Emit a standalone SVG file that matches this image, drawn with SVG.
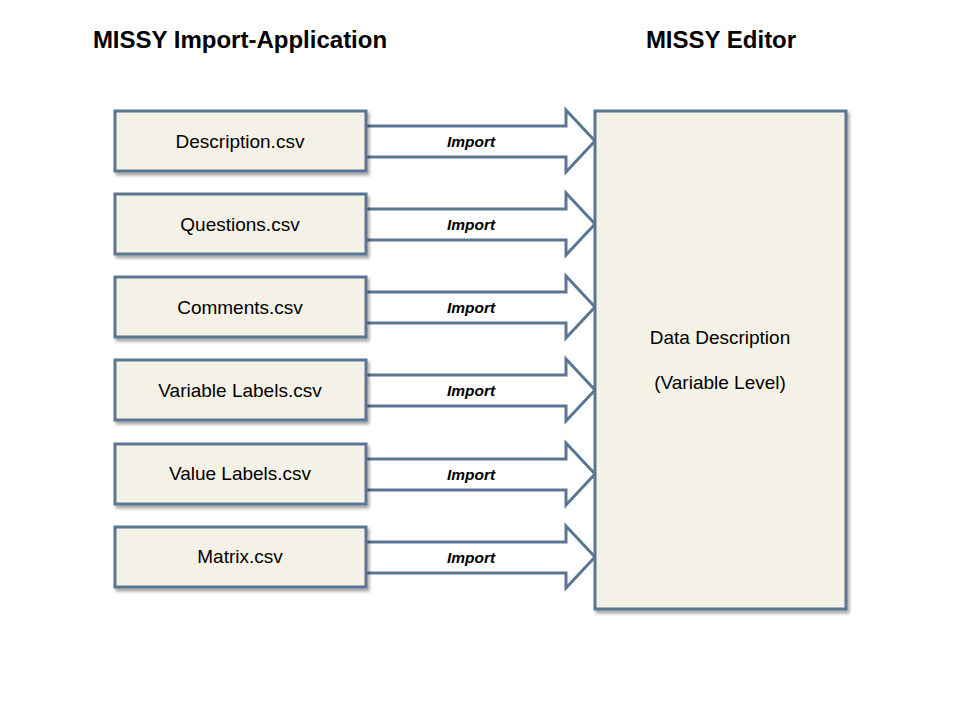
<svg xmlns="http://www.w3.org/2000/svg" width="960" height="720" viewBox="0 0 960 720">
<defs>
<filter id="sh" x="-10%" y="-10%" width="130%" height="130%">
<feGaussianBlur in="SourceAlpha" stdDeviation="1.5"/>
<feOffset dx="2" dy="3" result="b"/>
<feComponentTransfer><feFuncA type="linear" slope="0.35"/></feComponentTransfer>
<feMerge><feMergeNode/><feMergeNode in="SourceGraphic"/></feMerge>
</filter>
<path id="arr" d="M366,126 H566 V110 L595,141 L566,172 V157 H366"/>
</defs>
<style>
.box{fill:#f4f1e6;stroke:#5a7693;stroke-width:3;filter:url(#sh)}
.arrow{fill:#ffffff;stroke:#5a7693;stroke-width:3;stroke-linejoin:miter}
.t{font-family:"Liberation Sans",Arial,sans-serif;font-size:19px;fill:#000;text-anchor:middle}
.imp{font-family:"Liberation Sans",Arial,sans-serif;font-size:15.5px;font-weight:bold;font-style:italic;fill:#000;text-anchor:middle}
.title{font-family:"Liberation Sans",Arial,sans-serif;font-size:24px;font-weight:bold;fill:#000;text-anchor:middle}
</style>
<rect width="960" height="720" fill="#ffffff"/>
<text class="title" x="240" y="48">MISSY Import-Application</text>
<text class="title" x="721" y="48">MISSY Editor</text>
<g id="connectors">
<use href="#arr" class="arrow"/>
<use href="#arr" class="arrow" y="83"/>
<use href="#arr" class="arrow" y="166"/>
<use href="#arr" class="arrow" y="249"/>
<use href="#arr" class="arrow" y="333"/>
<use href="#arr" class="arrow" y="416"/>
<text class="imp" x="471" y="147">Import</text>
<text class="imp" x="471" y="230">Import</text>
<text class="imp" x="471" y="313">Import</text>
<text class="imp" x="471" y="396">Import</text>
<text class="imp" x="471" y="480">Import</text>
<text class="imp" x="471" y="563">Import</text>
</g>
<g id="n1"><rect class="box" x="115" y="111" width="251" height="60"/><text class="t" x="240" y="148">Description.csv</text></g>
<g id="n2"><rect class="box" x="115" y="194" width="251" height="60"/><text class="t" x="240" y="231">Questions.csv</text></g>
<g id="n3"><rect class="box" x="115" y="277" width="251" height="60"/><text class="t" x="240" y="314">Comments.csv</text></g>
<g id="n4"><rect class="box" x="115" y="360" width="251" height="60"/><text class="t" x="240" y="397">Variable Labels.csv</text></g>
<g id="n5"><rect class="box" x="115" y="444" width="251" height="60"/><text class="t" x="240" y="480">Value Labels.csv</text></g>
<g id="n6"><rect class="box" x="115" y="527" width="251" height="60"/><text class="t" x="240" y="563">Matrix.csv</text></g>
<g id="editor"><rect class="box" x="595" y="111" width="251" height="498"/>
<text class="t" x="720" y="344">Data Description</text>
<text class="t" x="720" y="389">(Variable Level)</text></g>
</svg>
